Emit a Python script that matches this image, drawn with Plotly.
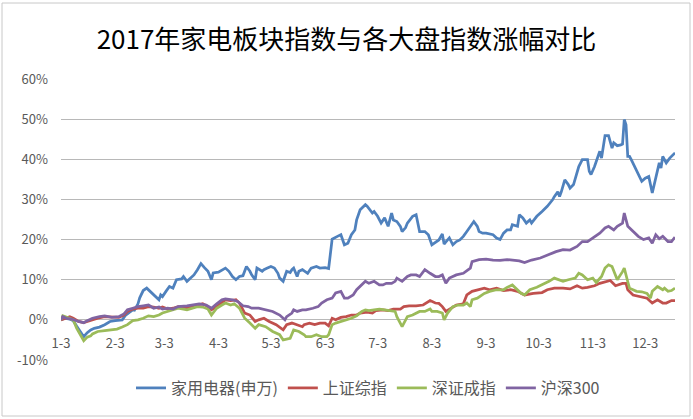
import plotly.graph_objects as go

YEAR = "2017-"

title_text = "2017年家电板块指数与各大盘指数涨幅对比"
series_names = ["家用电器(申万)", "上证综指", "深证成指", "沪深300"]
series_colors = ["#4F81BD", "#C0504D", "#9BBB59", "#8064A2"]

tick_dates = ["01-03", "02-03", "03-03", "04-03", "05-03", "06-03",
              "07-03", "08-03", "09-03", "10-03", "11-03", "12-03"]
tick_labels = ["1-3", "2-3", "3-3", "4-3", "5-3", "6-3",
               "7-3", "8-3", "9-3", "10-3", "11-3", "12-3"]
y_ticks = [-10, 0, 10, 20, 30, 40, 50, 60]
y_tick_labels = ["-10%", "0%", "10%", "20%", "30%", "40%", "50%", "60%"]

# 家用电器(申万)  (% change since 2017-01-03)
jd_dates = [
    "01-03", "01-05", "01-08", "01-10", "01-12", "01-14", "01-16", "01-18", "01-20", "01-22",
    "01-25", "01-28", "01-31", "02-03", "02-07", "02-09", "02-13", "02-14", "02-16", "02-17",
    "02-19", "02-21", "02-23", "02-26", "02-28", "03-01", "03-02", "03-04", "03-06", "03-08",
    "03-10", "03-13", "03-14", "03-16", "03-18", "03-20", "03-22", "03-24", "03-26", "03-28",
    "03-30", "03-31", "04-03", "04-05", "04-07", "04-09", "04-11", "04-13", "04-15", "04-17",
    "04-19", "04-21", "04-22", "04-24", "04-25", "04-28", "04-29", "05-01", "05-03", "05-05",
    "05-07", "05-08", "05-10", "05-12", "05-14", "05-15", "05-16", "05-18", "05-19", "05-21",
    "05-23", "05-24", "05-26", "05-29", "05-31", "06-03", "06-05", "06-06", "06-07", "06-10",
    "06-12", "06-14", "06-16", "06-18", "06-20", "06-21", "06-23", "06-26", "06-27", "06-30",
    "07-01", "07-03", "07-05", "07-07", "07-09", "07-11", "07-12", "07-14", "07-16", "07-17",
    "07-19", "07-20", "07-23", "07-25", "07-26", "07-27", "07-30", "08-01", "08-03", "08-06",
    "08-07", "08-09", "08-10", "08-12", "08-13", "08-15", "08-17", "08-19", "08-21", "08-23",
    "08-26", "08-27", "08-29", "08-30", "09-01", "09-03", "09-07", "09-09", "09-11", "09-13",
    "09-15", "09-17", "09-18", "09-21", "09-22", "09-24", "09-26", "09-28", "09-29", "10-02",
    "10-05", "10-08", "10-11", "10-12", "10-14", "10-15", "10-16", "10-18", "10-20", "10-21",
    "10-23", "10-25", "10-26", "10-28", "10-31", "11-01", "11-02", "11-04", "11-06", "11-07",
    "11-08", "11-10", "11-12", "11-14", "11-15", "11-17", "11-19", "11-20", "11-21", "11-22",
    "11-23", "11-24", "11-25", "11-27", "11-29", "12-01", "12-03", "12-05", "12-07", "12-08",
    "12-10", "12-11", "12-12", "12-13", "12-15", "12-17", "12-20"]
jd_values = [
    0, 0.4, 0.2, -0.2, -1.6, -2.9, -4.2, -3.2, -2.5, -2.1,
    -1.8, -1.2, -0.4, -0.2, 0, 1.2, 2.5, 2.4, 4.0, 5.5,
    7.3, 7.9, 7.1, 5.8, 5.0, 6.2, 5.8, 7.1, 8.3, 7.9,
    10.0, 10.2, 10.8, 9.6, 10.4, 11.2, 12.5, 14.0, 13.0, 12.1,
    10.0, 11.7, 11.9, 12.3, 12.9, 12.1, 10.8, 10.0, 10.8, 11.0,
    13.3, 12.1, 11.2, 10.0, 12.9, 12.1, 12.5, 12.9, 13.3, 12.9,
    11.6, 10.4, 9.6, 12.1, 11.8, 12.5, 12.9, 10.8, 12.1, 12.5,
    12.0, 11.6, 12.9, 13.3, 12.9, 13.0, 12.8, 16.5, 20.1, 20.8,
    21.2, 18.7, 19.1, 21.2, 22.4, 24.9, 27.4, 28.7, 28.3, 26.6,
    27.0, 25.8, 24.1, 25.4, 23.3, 26.6, 24.9, 24.5, 23.3, 22.0,
    23.0, 24.1, 25.8, 26.2, 24.1, 22.0, 22.0, 21.2, 18.7, 19.5,
    19.9, 21.4, 18.9, 19.9, 20.4, 18.7, 19.5, 19.9, 20.8, 22.0,
    23.7, 24.5, 23.3, 22.0, 21.6, 21.6, 21.2, 20.4, 20.0, 21.6,
    22.4, 22.4, 23.7, 23.3, 26.2, 25.4, 24.1, 24.9, 24.1, 25.8,
    27.0, 28.3, 29.9, 30.7, 31.9, 30.7, 31.9, 34.9, 33.7, 32.8,
    33.7, 36.6, 38.2, 39.9, 39.9, 37.0, 36.2, 38.2, 40.7, 42.0,
    40.3, 45.9, 45.9, 42.8, 44.1, 43.4, 43.6, 43.8, 49.9, 48.6,
    40.7, 40.7, 39.9, 38.2, 36.6, 34.5, 35.3, 35.7, 31.6, 33.3,
    37.4, 39.1, 37.8, 40.7, 39.1, 40.3, 41.6]

# 上证综指
sh_dates = [
    "01-03", "01-05", "01-08", "01-10", "01-13", "01-16", "01-18", "01-21", "01-24", "01-28",
    "02-01", "02-05", "02-08", "02-10", "02-13", "02-16", "02-19", "02-22", "02-25", "02-28",
    "03-02", "03-05", "03-08", "03-11", "03-16", "03-19", "03-22", "03-25", "03-28", "03-30",
    "04-02", "04-05", "04-07", "04-10", "04-13", "04-15", "04-18", "04-21", "04-24", "04-26",
    "04-29", "05-02", "05-06", "05-10", "05-12", "05-15", "05-18", "05-21", "05-22", "05-25",
    "05-28", "05-31", "06-03", "06-05", "06-07", "06-09", "06-12", "06-15", "06-18", "06-21",
    "06-23", "06-27", "06-30", "07-02", "07-06", "07-09", "07-12", "07-16", "07-18", "07-21",
    "07-25", "07-29", "08-02", "08-05", "08-07", "08-09", "08-11", "08-14", "08-17", "08-21",
    "08-23", "08-26", "08-29", "09-02", "09-05", "09-09", "09-13", "09-17", "09-21", "09-25",
    "09-30", "10-05", "10-08", "10-12", "10-17", "10-21", "10-25", "10-28", "10-31", "11-04",
    "11-07", "11-11", "11-13", "11-16", "11-20", "11-22", "11-23", "11-26", "11-30", "12-04",
    "12-07", "12-10", "12-13", "12-15", "12-18", "12-20"]
sh_values = [
    0, 0.4, 0.8, 0.4, -0.4, -0.7, -0.4, 0, 0.4, 0.8,
    0.7, 0.6, 1.2, 2.1, 2.7, 2.9, 2.9, 3.3, 3.2, 2.9,
    3.2, 2.7, 2.9, 3.3, 2.9, 3.5, 3.7, 4.0, 3.3, 2.5,
    3.3, 4.2, 5.0, 4.8, 5.0, 4.2, 1.7, 1.2, -0.4, 0,
    0.4, -0.4, -1.2, -2.5, -1.2, -0.8, -1.2, -1.7, -1.2, -0.8,
    -1.2, -0.8, -0.8, -1.5, 0.4, 0, 0.6, 0.8, 1.2, 1.2,
    1.7, 1.9, 1.7, 2.3, 2.5, 2.3, 2.7, 2.7, 3.3, 3.5,
    3.5, 3.7, 4.8, 4.2, 4.1, 3.3, 2.1, 2.9, 3.7, 4.0,
    6.2, 7.1, 7.5, 7.9, 7.5, 7.9, 7.3, 7.5, 7.1, 6.2,
    6.6, 6.8, 7.5, 7.9, 7.9, 7.7, 8.5, 7.9, 8.1, 8.5,
    9.1, 9.6, 9.8, 8.5, 9.1, 9.1, 7.5, 6.2, 5.8, 5.4,
    4.2, 5.0, 4.2, 4.2, 4.8, 4.8]

# 深证成指
sz_dates = [
    "01-03", "01-04", "01-06", "01-08", "01-10", "01-12", "01-14", "01-16", "01-18", "01-20",
    "01-21", "01-24", "01-28", "02-01", "02-04", "02-07", "02-10", "02-13", "02-16", "02-19",
    "02-22", "02-25", "02-28", "03-02", "03-05", "03-08", "03-11", "03-16", "03-19", "03-22",
    "03-25", "03-28", "03-30", "04-02", "04-05", "04-07", "04-10", "04-12", "04-15", "04-18",
    "04-21", "04-24", "04-26", "04-30", "05-04", "05-08", "05-10", "05-14", "05-16", "05-19",
    "05-22", "05-23", "05-26", "05-29", "06-01", "06-04", "06-05", "06-07", "06-09", "06-12",
    "06-15", "06-18", "06-21", "06-24", "06-26", "06-28", "07-01", "07-04", "07-07", "07-10",
    "07-13", "07-14", "07-17", "07-20", "07-23", "07-27", "07-30", "08-02", "08-03", "08-06",
    "08-09", "08-10", "08-12", "08-15", "08-18", "08-21", "08-23", "08-25", "08-26", "08-29",
    "09-02", "09-05", "09-09", "09-13", "09-15", "09-18", "09-21", "09-23", "09-25", "09-28",
    "10-02", "10-05", "10-09", "10-12", "10-14", "10-17", "10-20", "10-24", "10-26", "10-28",
    "10-31", "11-03", "11-05", "11-08", "11-10", "11-12", "11-14", "11-16", "11-17", "11-20",
    "11-21", "11-23", "11-24", "11-26", "11-28", "12-01", "12-04", "12-06", "12-07", "12-10",
    "12-13", "12-14", "12-16", "12-18", "12-20"]
sz_values = [
    0, 1.0, 0.7, 0.4, 0, -2.1, -3.7, -5.2, -4.3, -4.0,
    -3.5, -2.9, -2.7, -2.5, -2.3, -1.8, -1.2, -0.2, 0, 0.4,
    1.0, 0.8, 1.2, 1.7, 2.1, 2.5, 2.9, 2.5, 2.9, 3.3,
    3.2, 2.7, 1.2, 2.9, 3.7, 4.2, 3.7, 4.0, 2.9, 0.4,
    -0.8, -2.1, -1.2, -1.7, -2.9, -3.7, -5.0, -4.6, -2.5, -2.9,
    -3.7, -4.2, -4.2, -3.7, -4.2, -4.2, -3.7, -1.2, -0.8, -0.4,
    0, 0.4, 1.0, 2.1, 2.5, 2.3, 2.5, 2.7, 2.5, 2.3,
    2.1, 0.8, -1.7, 0.8, 1.2, 2.1, 2.1, 2.7, 2.1, 2.1,
    1.7, 0, 1.7, 3.3, 3.7, 3.7, 4.2, 3.3, 5.0, 5.4,
    6.6, 7.1, 7.5, 7.5, 8.1, 8.7, 7.5, 6.6, 6.2, 7.5,
    8.1, 8.7, 9.6, 10.4, 10.0, 9.6, 10.0, 10.4, 11.6, 11.2,
    10.0, 10.4, 9.3, 10.8, 12.9, 13.7, 13.3, 10.8, 10.0, 12.0,
    12.9, 9.5, 7.9, 7.5, 7.1, 7.0, 6.6, 5.4, 7.1, 8.3,
    7.5, 7.9, 7.1, 7.3, 7.9]

# 沪深300
hs_dates = [
    "01-03", "01-04", "01-06", "01-09", "01-13", "01-16", "01-18", "01-21", "01-25", "01-28",
    "02-01", "02-05", "02-08", "02-10", "02-13", "02-16", "02-19", "02-22", "02-25", "02-28",
    "03-02", "03-05", "03-08", "03-11", "03-16", "03-19", "03-23", "03-27", "03-30", "04-02",
    "04-05", "04-07", "04-11", "04-14", "04-17", "04-20", "04-22", "04-26", "04-30", "05-04",
    "05-08", "05-10", "05-11", "05-12", "05-15", "05-16", "05-18", "05-21", "05-23", "05-27",
    "05-30", "06-01", "06-04", "06-07", "06-09", "06-12", "06-14", "06-16", "06-19", "06-21",
    "06-23", "06-26", "06-28", "07-01", "07-04", "07-06", "07-08", "07-11", "07-13", "07-14",
    "07-17", "07-20", "07-22", "07-25", "07-27", "07-30", "08-02", "08-05", "08-07", "08-09",
    "08-11", "08-13", "08-17", "08-21", "08-25", "08-26", "08-30", "09-03", "09-07", "09-11",
    "09-15", "09-18", "09-22", "09-25", "09-29", "10-04", "10-08", "10-13", "10-17", "10-21",
    "10-25", "10-28", "10-31", "11-03", "11-07", "11-10", "11-12", "11-15", "11-17", "11-20",
    "11-21", "11-23", "11-26", "11-29", "12-02", "12-05", "12-07", "12-09", "12-11", "12-13",
    "12-16", "12-18", "12-20"]
hs_values = [
    0, 0.8, 0.4, 0.2, -0.4, -0.7, -0.2, 0.4, 0.8, 1.0,
    0.6, 0.8, 1.5, 2.5, 2.9, 3.3, 3.5, 3.7, 2.9, 3.2,
    2.7, 2.9, 2.7, 3.3, 3.5, 3.7, 4.0, 3.7, 2.9, 4.0,
    5.0, 5.2, 5.0, 4.6, 3.5, 3.3, 2.9, 2.9, 2.5, 2.1,
    1.2, 0.4, 0, 0.8, 1.7, 2.5, 2.1, 2.5, 2.5, 2.9,
    3.3, 4.2, 5.0, 5.4, 6.7, 7.1, 5.4, 5.4, 6.2, 7.5,
    8.3, 9.6, 9.1, 9.6, 8.7, 8.7, 9.1, 9.1, 9.6, 10.4,
    9.6, 10.8, 11.2, 11.2, 10.8, 12.5, 11.6, 10.8, 10.8, 11.2,
    9.1, 10.4, 11.2, 11.6, 12.9, 14.5, 15.0, 15.1, 14.9, 14.8,
    15.0, 14.9, 14.7, 14.3, 14.9, 15.4, 16.2, 17.0, 17.5, 17.4,
    18.3, 19.5, 19.5, 20.4, 21.6, 22.9, 23.3, 22.4, 23.3, 24.1,
    26.6, 23.3, 22.0, 20.8, 20.0, 20.4, 19.1, 21.2, 20.2, 20.8,
    19.5, 19.5, 20.6]

all_dates = [jd_dates, sh_dates, sz_dates, hs_dates]
all_values = [jd_values, sh_values, sz_values, hs_values]

FONT = "Noto Sans CJK SC, Microsoft YaHei, sans-serif"

fig = go.Figure()
for name, color, ds, vs in zip(series_names, series_colors, all_dates, all_values):
    fig.add_trace(go.Scatter(
        x=[YEAR + d for d in ds], y=vs, name=name, mode="lines",
        line=dict(color=color, width=2.75)))

fig.update_layout(
    width=693, height=419,
    margin=dict(l=61, r=18, t=79, b=59),
    paper_bgcolor="white", plot_bgcolor="white",
    font=dict(family=FONT, size=13, color="#595959"),
    title=dict(text=title_text, x=0.5, xref="container", xanchor="center",
               y=1 - 40 / 419, yref="container", yanchor="middle",
               font=dict(family=FONT, size=26, color="#000000")),
    showlegend=True,
    legend=dict(orientation="h", x=0.5, xanchor="center",
                y=(360 - 388) / 281, yanchor="middle",
                font=dict(family=FONT, size=16, color="#595959"),
                itemwidth=30, tracegroupgap=0),
    xaxis=dict(type="date",
               range=[YEAR + jd_dates[0], YEAR + jd_dates[-1]],
               tickvals=[YEAR + d for d in tick_dates], ticktext=tick_labels,
               showgrid=False, zeroline=False, showline=False, ticks="",
               anchor="free", position=(0 - y_ticks[0]) / (y_ticks[-1] - y_ticks[0]),
               ticklabelstandoff=14,
               tickfont=dict(family=FONT, size=13, color="#595959")),
    yaxis=dict(range=[y_ticks[0], y_ticks[-1]], tickvals=y_ticks, ticktext=y_tick_labels,
               showgrid=True, gridcolor="#b8b8b8", gridwidth=1,
               zeroline=False, showline=False, ticks="",
               ticklabelstandoff=12,
               tickfont=dict(family=FONT, size=13, color="#595959")),
    shapes=[dict(type="rect", xref="paper", yref="paper",
                 x0=(2 - 61) / 614, x1=(690 - 61) / 614,
                 y0=(360 - 416) / 281, y1=(360 - 3) / 281,
                 line=dict(color="#c8c8c8", width=1), fillcolor="rgba(0,0,0,0)",
                 layer="below")],
)

fig.write_html("out.html", config={"displayModeBar": False},
               post_script="document.body.style.margin='0';")
